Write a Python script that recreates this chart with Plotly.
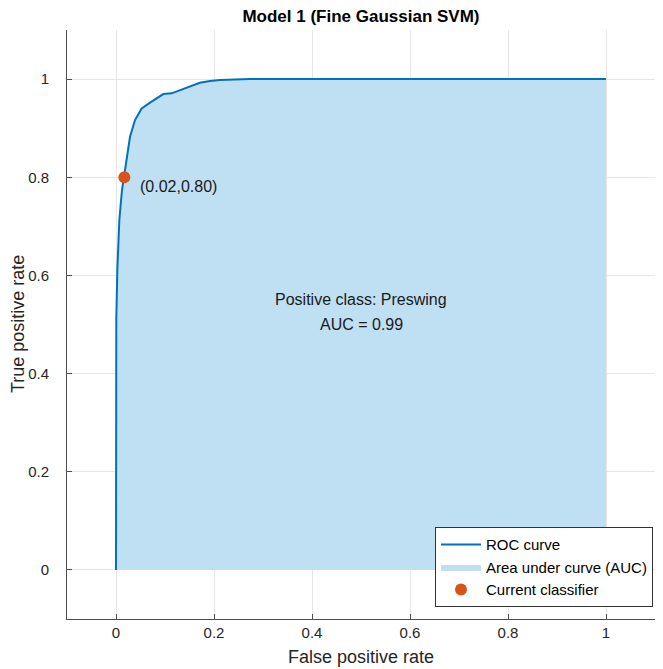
import plotly.graph_objects as go

# ROC curve data
fpr = [0, 0, 0.0006, 0.0027, 0.0068, 0.0122, 0.0163, 0.0218, 0.0286, 0.0388, 0.0524,
       0.0694, 0.083, 0.0966, 0.1136, 0.1306, 0.151, 0.171, 0.192, 0.212, 0.273, 0.4, 1.0]
tpr = [0, 0.40, 0.509, 0.611, 0.713, 0.774, 0.801, 0.842, 0.8825, 0.9165, 0.9403,
       0.952, 0.9606, 0.9695, 0.971, 0.9776, 0.986, 0.9925, 0.9959, 0.998, 1.0, 1.0, 1.0]

current_fpr = [0.017]
current_tpr = [0.80]
current_label = "(0.02,0.80)"

title = "Model 1 (Fine Gaussian SVM)"
positive_class = "Preswing"
auc = 0.99

tick_vals = [0, 0.2, 0.4, 0.6, 0.8, 1]
tick_text = ["0", "0.2", "0.4", "0.6", "0.8", "1"]

FONT = "Liberation Sans, Arial, Helvetica, sans-serif"
fig = go.Figure()

fig.add_trace(go.Scatter(
    x=fpr, y=tpr, mode="lines", name="Area under curve (AUC)",
    fill="tozeroy", fillcolor="#BFDFF2",
    line=dict(width=0, color="#BFDFF2"), hoverinfo="skip", legendrank=2,
))
fig.add_trace(go.Scatter(
    x=fpr, y=tpr, mode="lines", name="ROC curve",
    line=dict(color="#0072BD", width=2), legendrank=1,
))
fig.add_trace(go.Scatter(
    x=current_fpr, y=current_tpr, mode="markers", name="Current classifier",
    marker=dict(color="#D95319", size=12), legendrank=3,
))

fig.add_annotation(x=0.045, y=0.782, text=current_label, showarrow=False,
                   xanchor="left", yanchor="middle",
                   font=dict(size=16, color="#1a1a1a", family=FONT))
fig.add_annotation(x=0.5, y=0.55, text=f"Positive class: {positive_class}", showarrow=False,
                   xanchor="center", yanchor="middle",
                   font=dict(size=16, color="#1a1a1a", family=FONT))
fig.add_annotation(x=0.5, y=0.499, text=f"AUC = {auc:.2f}", showarrow=False,
                   xanchor="center", yanchor="middle",
                   font=dict(size=16, color="#1a1a1a", family=FONT))
# y-axis title
fig.add_annotation(xref="paper", yref="paper", x=-0.084, y=0.5,
                   text="True positive rate", textangle=-90, showarrow=False,
                   xanchor="center", yanchor="middle",
                   font=dict(size=18, color="#262626", family=FONT))

axis_common = dict(
    range=[-0.1, 1.1], tickvals=tick_vals, ticktext=tick_text,
    showgrid=True, gridcolor="#E6E6E6", gridwidth=1,
    zeroline=False, showline=True, linecolor="#4D4D4D", linewidth=1,
    ticks="inside", ticklen=5, tickcolor="#4D4D4D",
    tickfont=dict(size=15, color="#262626", family=FONT),
    mirror=False, automargin=False,
)

fig.update_layout(
    width=655, height=661,
    margin=dict(l=59, r=8, t=22, b=50, autoexpand=False),
    paper_bgcolor="white", plot_bgcolor="white",
    title=dict(text=f"<b>{title}</b>", x=353 / 655, xanchor="center",
               y=1 - 8 / 661, yanchor="middle",
               font=dict(size=17, color="#000000", family=FONT)),
    xaxis=dict(title=dict(text="False positive rate",
                          font=dict(size=18, color="#262626", family=FONT), standoff=10),
               ticklabelstandoff=0, **axis_common),
    yaxis=dict(ticklabelstandoff=14, **axis_common),
    legend=dict(x=0.9966, y=0.02, xanchor="right", yanchor="bottom",
                bgcolor="white", bordercolor="#333333", borderwidth=1,
                font=dict(size=15, color="#000000", family=FONT),
                tracegroupgap=0, itemwidth=40),
    showlegend=True,
)

fig.write_html("out.html")
